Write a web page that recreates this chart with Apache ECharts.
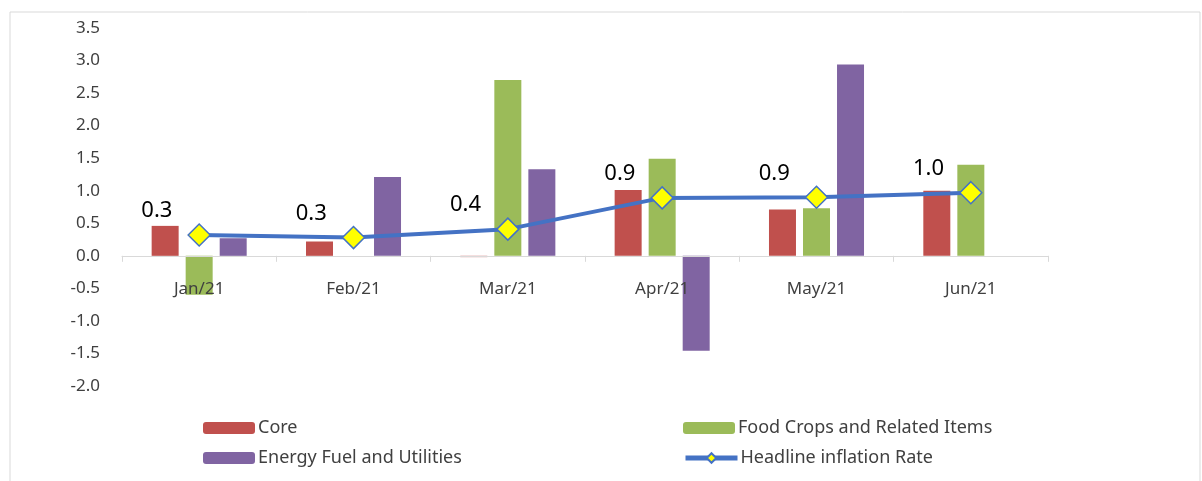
<!DOCTYPE html>
<html lang="en">
<head>
    <meta charset="UTF-8">
    <title>Inflation components</title>
    <script src="https://cdn.jsdelivr.net/npm/echarts@6/dist/echarts.min.js"></script>
    <style>
        body { margin: 0; padding: 0; background: #fff; }
        #chart { width: 1202px; height: 481px; }
    </style>
</head>
<body>
    <div id="chart"></div>
    <script>
        // data
        var months = ['Jan/21', 'Feb/21', 'Mar/21', 'Apr/21', 'May/21', 'Jun/21'];
        var core = [0.46, 0.22, -0.02, 1.01, 0.71, 1.0];
        var foodCrops = [-0.6, 0, 2.7, 1.49, 0.73, 1.4];
        var energy = [0.27, 1.21, 1.33, -1.46, 2.94, 0];
        var headline = [0.32, 0.28, 0.41, 0.89, 0.9, 0.97];

        var font = '"Noto Sans", "Open Sans", sans-serif';
        var textColor = '#404040';

        var chart = echarts.init(document.getElementById('chart'));

        function legendAt(name, left, top) {
            return {
                data: [name],
                left: left,
                top: top,
                itemWidth: 52,
                itemHeight: 12,
                itemGap: 0,
                padding: 0,
                selectedMode: false,
                lineStyle: { width: 5 },
                textStyle: { fontFamily: font, fontSize: 18, color: textColor, padding: [0, 0, 0, -2] }
            };
        }

        chart.setOption({
            animation: false,
            graphic: [{
                type: 'rect',
                shape: { x: 10, y: 12, width: 1190, height: 480 },
                style: { fill: 'none', stroke: '#d9d9d9', lineWidth: 1 },
                silent: true
            }],
            grid: { left: 122, right: 154, top: 28, bottom: 95 },
            legend: [
                legendAt('Core', 203, 419),
                legendAt('Food Crops and Related Items', 683, 419),
                legendAt('Energy Fuel and Utilities', 203, 449),
                legendAt('Headline inflation Rate', 683, 449)
            ],
            xAxis: {
                type: 'category',
                data: months,
                z: 3,
                axisLine: { onZero: true, lineStyle: { color: '#d9d9d9', width: 1 } },
                axisTick: { show: true, length: 6, lineStyle: { color: '#d9d9d9' } },
                // labels sit under the zero line, not at the grid bottom
                axisLabel: { color: textColor, fontFamily: font, fontSize: 17, margin: -105 }
            },
            yAxis: {
                type: 'value',
                min: -2,
                max: 3.5,
                interval: 0.5,
                axisLine: { show: false },
                axisTick: { show: false },
                splitLine: { show: false },
                axisLabel: {
                    color: textColor, fontFamily: font, fontSize: 17, margin: 22,
                    formatter: function (v) { return v.toFixed(1); }
                }
            },
            series: [
                { name: 'Core', type: 'bar', data: core, barWidth: 27, barGap: '26%', itemStyle: { color: '#C0504D' } },
                { name: 'Food Crops and Related Items', type: 'bar', data: foodCrops, barWidth: 27, barGap: '26%', itemStyle: { color: '#9BBB59' } },
                { name: 'Energy Fuel and Utilities', type: 'bar', data: energy, barWidth: 27, barGap: '26%', itemStyle: { color: '#8064A2' } },
                {
                    name: 'Headline inflation Rate',
                    type: 'line',
                    data: headline,
                    z: 5,
                    symbol: 'diamond',
                    symbolSize: 22,
                    lineStyle: { color: '#4472C4', width: 4 },
                    itemStyle: { color: '#FFFF00', borderColor: '#4472C4', borderWidth: 1.5 },
                    label: {
                        show: true,
                        position: 'left',
                        offset: [-10, -24],
                        color: '#000',
                        fontFamily: font,
                        fontSize: 22,
                        formatter: function (p) { return p.value.toFixed(1); }
                    }
                }
            ]
        });

        window.addEventListener('resize', function () {
            chart.resize();
        });
    </script>
</body>
</html>
